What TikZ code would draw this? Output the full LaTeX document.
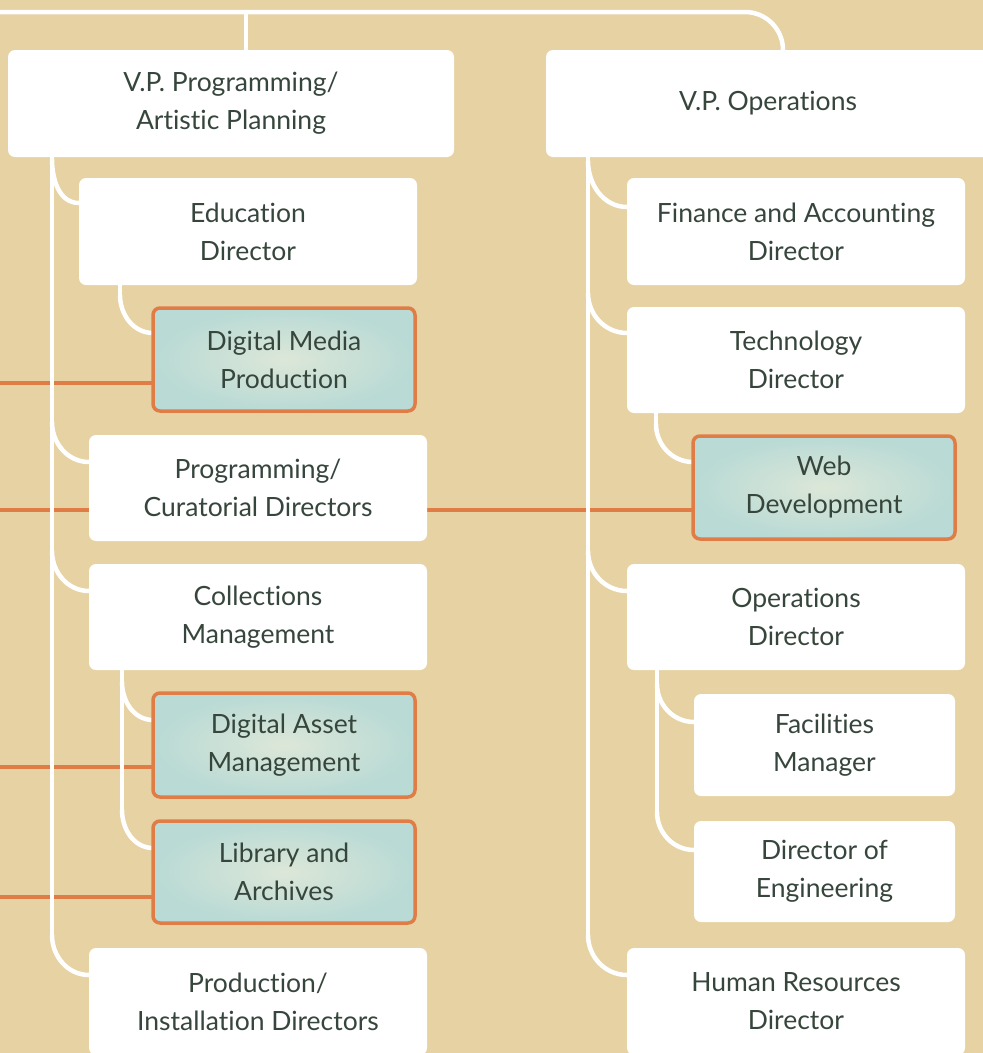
\documentclass[tikz,border=0pt]{standalone}
\usepackage{fontspec}
\setmainfont{Lato}[Ligatures={NoCommon}]
\usetikzlibrary{calc}
\pgfdeclarelayer{bottom}
\pgfdeclarelayer{olayer}
\pgfdeclarelayer{wlayer}
\pgfsetlayers{bottom,olayer,wlayer,main}
\definecolor{bgtan}{HTML}{E6D2A2}
\definecolor{orng}{HTML}{E07D46}
\definecolor{tealout}{HTML}{B9DAD5}
\definecolor{tealin}{HTML}{DCE7D8}
\definecolor{txt}{HTML}{37463C}
\tikzset{
  wline/.style={draw=white, line width=4.5pt},
  oline/.style={draw=orng, line width=4.5pt},
  wbox/.style={fill=white, rounded corners=7pt, align=center, text=txt,
    font=\fontsize{26.5}{38}\selectfont, inner sep=0pt, outer sep=0pt},
  tbox/.style={wbox, draw=orng, line width=3.5pt, shading=radial,
    inner color=tealin, outer color=tealout},
  br/.style={wline, out=180, in=-90},
}
\begin{document}
\begin{tikzpicture}[x=1pt,y=-1pt]
\useasboundingbox (0,0) rectangle (983,1053);
\clip (0,0) rectangle (983,1053);
\begin{pgfonlayer}{bottom}
\fill[bgtan] (0,0) rectangle (983,1053);
\end{pgfonlayer}

\coordinate (topL) at (0,12);
\coordinate (o1) at (0,383);
\coordinate (o2) at (0,510);
\coordinate (o3) at (0,767);
\coordinate (o4) at (0,897);

% boxes
\node[wbox, minimum width=446pt, minimum height=107pt] (vpp) at (231,103.5) {V.P. Programming/\\Artistic Planning};
\node[wbox, minimum width=444pt, minimum height=107pt] (vpo) at (768,103.5) {V.P. Operations};
\node[wbox, minimum width=338pt, minimum height=107pt] (edu) at (248,231.5) {Education\\Director};
\node[tbox, minimum width=262pt, minimum height=103pt] (dmp) at (284,359.5) {Digital Media\\Production};
\node[wbox, minimum width=338pt, minimum height=106pt] (pcd) at (258,488) {Programming/\\Curatorial Directors};
\node[wbox, minimum width=338pt, minimum height=106pt] (col) at (258,617) {Collections\\Management};
\node[tbox, minimum width=262pt, minimum height=104pt] (dam) at (284,745) {Digital Asset\\Management};
\node[tbox, minimum width=262pt, minimum height=102pt] (lib) at (284,872) {Library and\\Archives};
\node[wbox, minimum width=338pt, minimum height=107pt] (prd) at (258,1001.5) {Production/\\Installation Directors};
\node[wbox, minimum width=338pt, minimum height=107pt] (fin) at (796,231.5) {Finance and Accounting\\Director};
\node[wbox, minimum width=338pt, minimum height=106pt] (tech) at (796,360) {Technology\\Director};
\node[tbox, minimum width=262pt, minimum height=103pt] (web) at (824,487.5) {Web\\Development};
\node[wbox, minimum width=338pt, minimum height=106pt] (ops) at (796,617) {Operations\\Director};
\node[wbox, minimum width=261pt, minimum height=102pt] (fac) at (824.5,745) {Facilities\\Manager};
\node[wbox, minimum width=261pt, minimum height=101pt] (eng) at (824.5,871.5) {Director of\\Engineering};
\node[wbox, minimum width=338pt, minimum height=107pt] (hr) at (796,1001.5) {Human Resources\\Director};

% orange cross links
\begin{pgfonlayer}{olayer}
\draw[oline] (o1) -- (o1 -| dmp.west);
\draw[oline] (o2) -- (o2 -| pcd.west);
\draw[oline] (pcd.east |- o2) -- (o2 -| web.west);
\draw[oline] (o3) -- (o3 -| dam.west);
\draw[oline] (o4) -- (o4 -| lib.west);
\end{pgfonlayer}

% vertical line tops
\coordinate (L1) at ([xshift=44pt]vpp.south west);
\coordinate (L2) at ([xshift=41pt]edu.south west);
\coordinate (L3) at ([xshift=33pt]col.south west);
\coordinate (R1) at ([xshift=42pt]vpo.south west);
\coordinate (R2) at ([xshift=29pt]tech.south west);
\coordinate (R3) at ([xshift=30pt]ops.south west);
% branch targets
\coordinate (tEdu) at ($(edu.north west)+(0,25)$);
\coordinate (tPcd) at ($(pcd.north west)+(0,27)$);
\coordinate (tCol) at ($(col.north west)+(0,27)$);
\coordinate (tPrd) at ($(prd.north west)+(0,27)$);
\coordinate (tDmp) at ($(dmp.north west)+(0,25)$);
\coordinate (tDam) at ($(dam.north west)+(0,27)$);
\coordinate (tLib) at ($(lib.north west)+(0,27)$);
\coordinate (tFin) at ($(fin.north west)+(0,29)$);
\coordinate (tTec) at ($(tech.north west)+(0,26)$);
\coordinate (tOps) at ($(ops.north west)+(0,27)$);
\coordinate (tHr)  at ($(hr.north west)+(0,27)$);
\coordinate (tWeb) at ($(web.north west)+(0,26)$);
\coordinate (tFac) at ($(fac.north west)+(0,28)$);
\coordinate (tEng) at ($(eng.north west)+(0,29)$);

% white hierarchy lines
\begin{pgfonlayer}{wlayer}
\draw[wline, rounded corners=38pt] (topL) -| ([xshift=15pt]vpo.north);
\draw[wline] ([xshift=15pt]vpp.north) -- ([xshift=15pt]vpp.north |- topL);
% left main
\draw[wline] (L1) -- ($(L1 |- tPrd)+(0,-40)$);
\draw[br] (tEdu) to ($(L1 |- tEdu)+(0,-44)$);
\draw[br] (tPcd) to ($(L1 |- tPcd)+(0,-40)$);
\draw[br] (tCol) to ($(L1 |- tCol)+(0,-40)$);
\draw[br] (tPrd) to ($(L1 |- tPrd)+(0,-40)$);
% left inner
\draw[wline] (L2) -- ($(L2 |- tDmp)+(0,-38)$);
\draw[br] (tDmp) to ($(L2 |- tDmp)+(0,-38)$);
\draw[wline] (L3) -- ($(L3 |- tLib)+(0,-38)$);
\draw[br] (tDam) to ($(L3 |- tDam)+(0,-38)$);
\draw[br] (tLib) to ($(L3 |- tLib)+(0,-38)$);
% right main
\draw[wline] (R1) -- ($(R1 |- tHr)+(0,-40)$);
\draw[br] (tFin) to ($(R1 |- tFin)+(0,-46)$);
\draw[br] (tTec) to ($(R1 |- tTec)+(0,-40)$);
\draw[br] (tOps) to ($(R1 |- tOps)+(0,-40)$);
\draw[br] (tHr) to ($(R1 |- tHr)+(0,-40)$);
% right inner
\draw[wline] (R2) -- ($(R2 |- tWeb)+(0,-38)$);
\draw[br] (tWeb) to ($(R2 |- tWeb)+(0,-38)$);
\draw[wline] (R3) -- ($(R3 |- tEng)+(0,-38)$);
\draw[br] (tFac) to ($(R3 |- tFac)+(0,-38)$);
\draw[br] (tEng) to ($(R3 |- tEng)+(0,-38)$);
\end{pgfonlayer}
\end{tikzpicture}
\end{document}
